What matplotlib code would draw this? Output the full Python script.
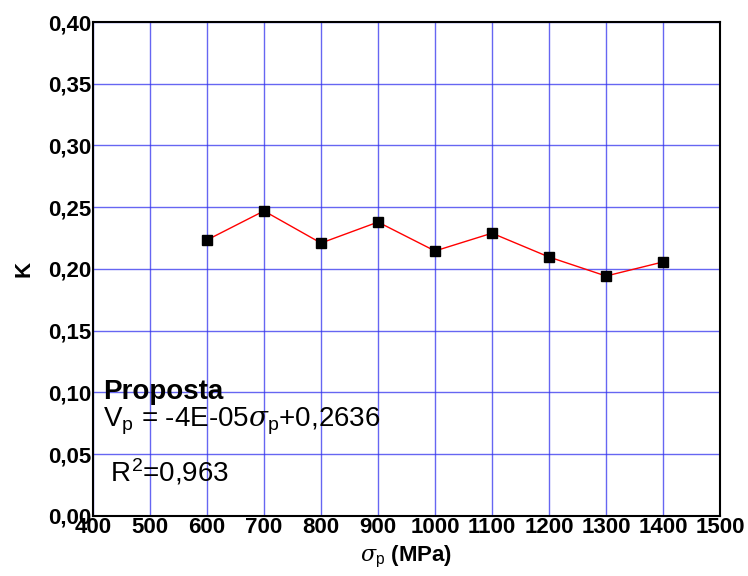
import matplotlib.pyplot as plt

plt.rcParams['font.family'] = ['Liberation Sans', 'DejaVu Sans']
plt.rcParams['mathtext.fontset'] = 'custom'
plt.rcParams['mathtext.it'] = 'DejaVu Serif:italic'
plt.rcParams['mathtext.rm'] = 'Liberation Sans'

sigma_p = [600, 700, 800, 900, 1000, 1100, 1200, 1300, 1400]
k_vals = [0.2235, 0.247, 0.221, 0.238, 0.2146, 0.229, 0.2097, 0.1943, 0.2057]

x_ticks = list(range(400, 1501, 100))
y_ticks = [0.00, 0.05, 0.10, 0.15, 0.20, 0.25, 0.30, 0.35, 0.40]
y_labels = ['0,00', '0,05', '0,10', '0,15', '0,20', '0,25', '0,30', '0,35', '0,40']

fig = plt.figure(figsize=(7.48, 5.76), dpi=100)
ax = fig.add_axes([0.1243, 0.1042, 0.8383, 0.8576])

ax.plot(sigma_p, k_vals, color='red', linewidth=1, marker='s', markersize=7,
        markerfacecolor='black', markeredgecolor='black', zorder=3)

ax.set_xlim(400, 1500)
ax.set_ylim(0, 0.40)
ax.set_xticks(x_ticks)
ax.set_xticklabels([str(v) for v in x_ticks], fontsize=16, fontweight='bold')
ax.set_yticks(y_ticks)
ax.set_yticklabels(y_labels, fontsize=16, fontweight='bold')
ax.tick_params(length=0, pad=1)
ax.grid(True, color='#3333ee', alpha=0.75, linewidth=1)
for s in ax.spines.values():
    s.set_linewidth(1.5)
    s.set_color('black')

ax.set_ylabel('K', fontsize=16, fontweight='bold', labelpad=10)
ax.set_xlabel(r'$\sigma_{\mathrm{p}}$ (MPa)', fontsize=16, fontweight='bold', labelpad=4)

ax.text(0.016, 0.237, 'Proposta', transform=ax.transAxes, fontsize=20, fontweight='bold',
        va='baseline', ha='left')
ax.text(0.016, 0.182, r'V$_\mathrm{p}$ = -4E-05$\sigma_\mathrm{p}$+0,2636', transform=ax.transAxes,
        fontsize=20, va='baseline', ha='left')
ax.text(0.016, 0.069, r' R$^2$=0,963', transform=ax.transAxes, fontsize=20, va='baseline', ha='left')

fig.savefig('out.png', dpi=100)
